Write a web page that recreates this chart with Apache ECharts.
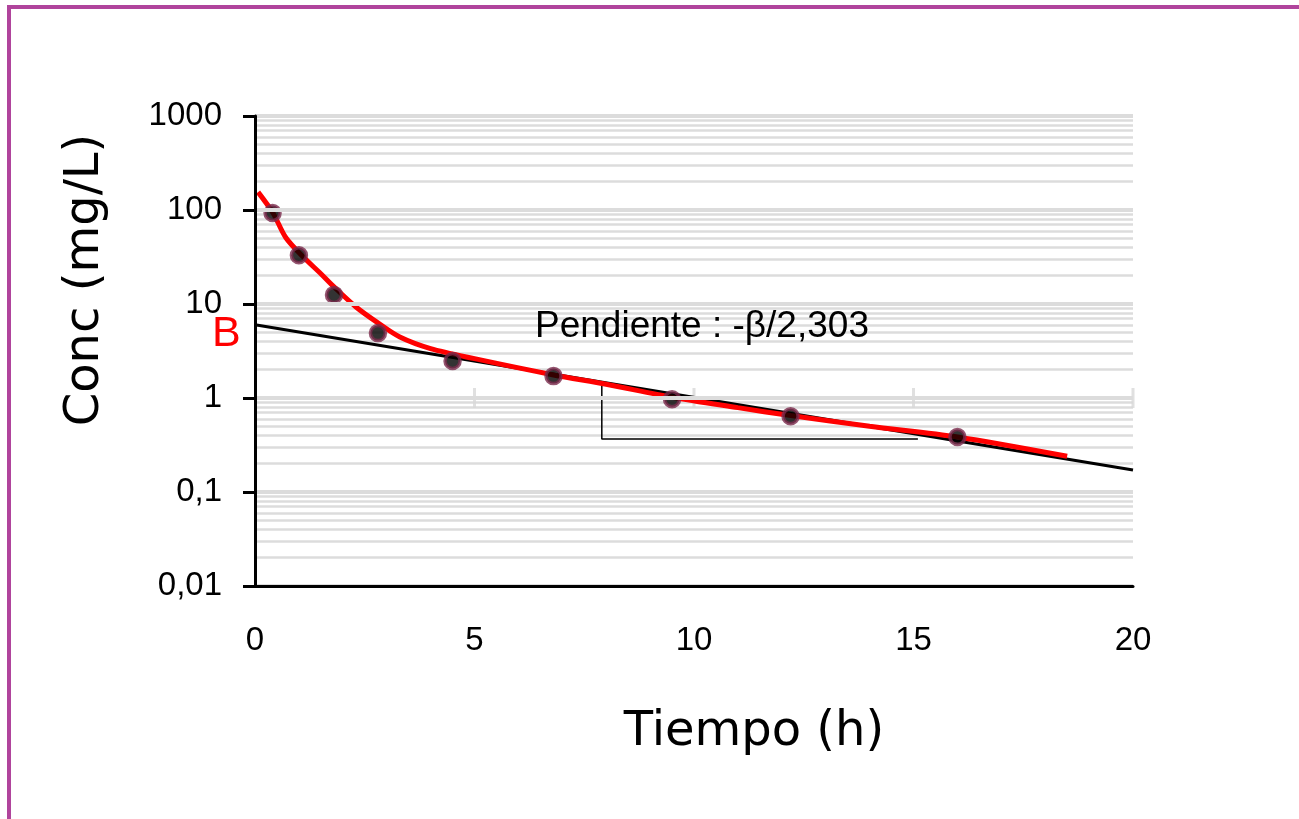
<!DOCTYPE html>
<html><head><meta charset="utf-8">
<script src="https://cdn.jsdelivr.net/npm/echarts@6/dist/echarts.min.js"></script>
<style>html,body{margin:0;padding:0;background:#fff}#c{width:1299px;height:819px}</style>
</head><body><div id="c"></div>
<script>
// ---- data ----
const measuredPoints = [[0.4,93],[1.0,33],[1.8,12.5],[2.8,4.9],[4.5,2.48],[6.8,1.71],[9.5,0.97],[12.2,0.64],[16.0,0.385]];
const fittedCurve = [[0.07,155],[0.41,93],[0.7,51],[1.09,32],[1.5,21],[1.8,15.2],[2.3,9.3],[2.8,6.3],[3.3,4.45],[4.0,3.35],[5.0,2.62],[6.8,1.76],[8.0,1.4],[9.5,1.02],[11.0,0.79],[12.2,0.65],[14.0,0.5],[16.0,0.385],[18.5,0.24]];
const terminalLine = [[0,6.0],[20,0.171]];
const slopeTriangle = [[7.9,1.47],[7.9,0.366],[15.1,0.366]];
const xTickLabels = ['0','5','10','15','20'];
const yTickValues = [0.01,0.1,1,10,100,1000];
const yTickLabels = ['0,01','0,1','1','10','100','1000'];
const minorMultipliers = [2,3,4,5,6,7,8,9];
const crossTickX = [5,10,15,20];
const crossTickY = 1;
const slopeText = 'Pendiente : -β/2,303';
const interceptText = 'B';
const xTitle = 'Tiempo (h)';
const yTitle = 'Conc (mg/L)';

// minor log gridline values
const minorGrid = [];
yTickValues.slice(0, -1).forEach(d => minorMultipliers.forEach(m => minorGrid.push(+(d*m).toPrecision(3))));

const chart = echarts.init(document.getElementById('c'), null, {renderer:'canvas'});
const labelFont = 'Liberation Sans, Arial, sans-serif';
chart.setOption({
  animation:false,
  backgroundColor:'#ffffff',
  grid:{left:255, top:116, right:166, bottom:233, containLabel:false},
  xAxis:{
    type:'value', min:0, max:20, interval:5, z:10,
    axisLine:{show:true, onZero:false, lineStyle:{color:'#000', width:3}},
    axisTick:{show:false},
    splitLine:{show:false},
    axisLabel:{margin:38, color:'#000', fontSize:33, fontFamily:labelFont,
      formatter:(v)=>xTickLabels[Math.round(v/5)] ?? ''}
  },
  yAxis:{
    type:'log', logBase:10, min:0.01, max:1000, z:10,
    axisLine:{show:true, lineStyle:{color:'#000', width:3}},
    axisTick:{show:true, inside:false, length:12, lineStyle:{color:'#000', width:3}},
    splitLine:{show:true, lineStyle:{color:'#dcdcdc', width:4}},
    axisLabel:{margin:33, color:'#000', fontSize:33, fontFamily:labelFont,
      formatter:(v)=>{const i=yTickValues.findIndex(t=>Math.abs(Math.log10(t)-Math.log10(v))<1e-6); return i>=0?yTickLabels[i]:'';}}
  },
  series:[
    {type:'line', name:'grid', data:[], z:1, silent:true,
     markLine:{silent:true, z:1, symbol:['none','none'], label:{show:false},
       lineStyle:{color:'#dcdcdc', width:2.5, type:'solid'},
       emphasis:{disabled:true},
       data:minorGrid.map(v=>({yAxis:v}))}},
    {type:'scatter', name:'crossTicks', z:2, silent:true, symbol:'rect', symbolSize:[3,20],
     itemStyle:{color:'#d8d8d8'}, data:crossTickX.map(x=>[x,crossTickY])},
    {type:'line', name:'terminal', data:terminalLine, symbol:'none', z:3,
     lineStyle:{color:'#000', width:3}},
    {type:'line', name:'triangle', data:slopeTriangle, symbol:'none', z:3,
     lineStyle:{color:'#000', width:1.5}},
    {type:'line', name:'fit', data:fittedCurve, symbol:'none', smooth:0.3, z:4,
     lineStyle:{color:'#ff0000', width:5}},
    {type:'scatter', name:'obs', data:measuredPoints, z:5, symbol:'circle', symbolSize:15,
     itemStyle:{color:'#000', borderColor:'#7a2a4c', borderWidth:3.5}}
  ],
  graphic:[
    {type:'rect', z:100, shape:{x:8, y:5, width:1291, height:4}, style:{fill:'#b0449c'}, silent:true},
    {type:'rect', z:100, shape:{x:7, y:5, width:4, height:814}, style:{fill:'#b0449c'}, silent:true},
    {type:'text', z:100, x:535, y:327, style:{text:slopeText, font:'37px "Liberation Sans", Arial, sans-serif', fill:'#000', verticalAlign:'middle', align:'left'}},
    {type:'text', z:100, x:212, y:334, style:{text:interceptText, font:'43px "Liberation Sans", Arial, sans-serif', fill:'#ff0000', verticalAlign:'middle', align:'left'}},
    {type:'text', z:100, x:754, y:733, style:{text:xTitle, font:'48px "DejaVu Sans", Verdana, sans-serif', fill:'#000', verticalAlign:'middle', align:'center'}},
    {type:'text', z:100, x:86, y:280, rotation:Math.PI/2, style:{text:yTitle, font:'48px "DejaVu Sans", Verdana, sans-serif', fill:'#000', verticalAlign:'middle', align:'center'}}
  ]
});
</script>
</body></html>
